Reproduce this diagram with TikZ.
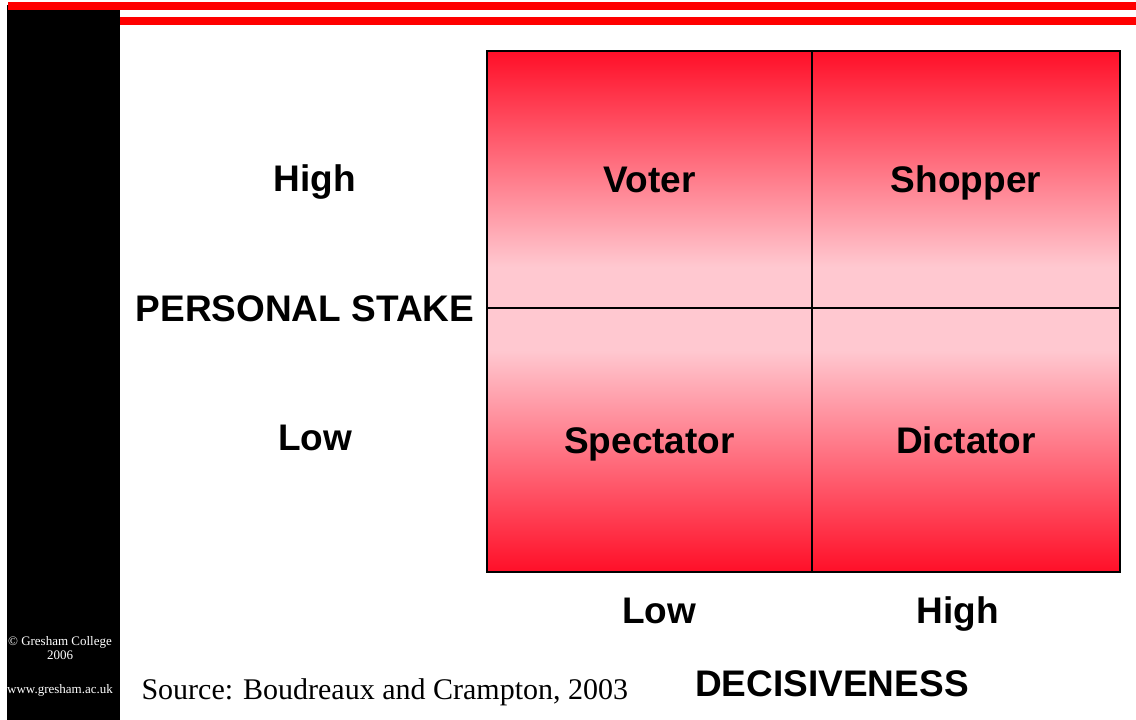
\documentclass[tikz,border=0pt]{standalone}
\usepackage{fontspec}
\setmainfont{Liberation Serif}
\setsansfont{Liberation Sans}
\usetikzlibrary{positioning}
\definecolor{quadred}{RGB}{255,15,40}
\definecolor{quadpink}{RGB}{255,200,208}
\pgfdeclareverticalshading{quadup}{100bp}{color(0bp)=(quadpink); color(33bp)=(quadpink); color(75bp)=(quadred); color(100bp)=(quadred)}
\pgfdeclareverticalshading{quaddown}{100bp}{color(0bp)=(quadred); color(25bp)=(quadred); color(67bp)=(quadpink); color(100bp)=(quadpink)}

\begin{document}
\begin{tikzpicture}[x=1pt,y=-1pt,
	big/.style={font=\sffamily\bfseries\fontsize{37}{40}\selectfont,text height=26.5pt,text depth=0pt},
	quad/.style={big,rectangle,draw=black,line width=1.2pt,inner sep=0pt,outer sep=0pt},
	upper/.style={quad,shading=quadup,minimum height=257pt},
	lower/.style={quad,shading=quaddown,minimum height=264pt},
	small/.style={text=white,font=\fontsize{13}{14}\selectfont}]
	\useasboundingbox (0,0) rectangle (1136,720);
	% side bar and rules
	\fill[black] (7,5) rectangle (120,720);
	\fill[red] (8,2) rectangle (1136,10);
	\fill[red] (120,17) rectangle (1136,25);
	% the four quadrants
	\node[upper, minimum width=325pt] (voter) at (649.5,179.5) {Voter};
	\node[upper, minimum width=308pt, right=0pt of voter] (shopper) {Shopper};
	\node[lower, minimum width=325pt, below=0pt of voter] (spectator) {Spectator};
	\node[lower, minimum width=308pt, right=0pt of spectator] (dictator) {Dictator};
	% axis labels
	\node[big] (stakehigh) at (315,178) {High};
	\node[big] (stake) at (305,308) {PERSONAL STAKE};
	\node[big] (stakelow) at (315,437) {Low};
	\node[big] (declow) at (659,610) {Low};
	\node[big] (dechigh) at (958,610) {High};
	\node[big] (dec) at (832,683) {DECISIVENESS};
	% footer
	\node[anchor=west, font=\fontsize{30}{32}\selectfont] (source) at (138,692) {Source: Boudreaux and Crampton, 2003};
	\node[small, align=center] (copy) at (60,648) {\textcopyright{} Gresham College\\2006};
	\node[small] (web) at (60,690) {www.gresham.ac.uk};
\end{tikzpicture}
\end{document}
